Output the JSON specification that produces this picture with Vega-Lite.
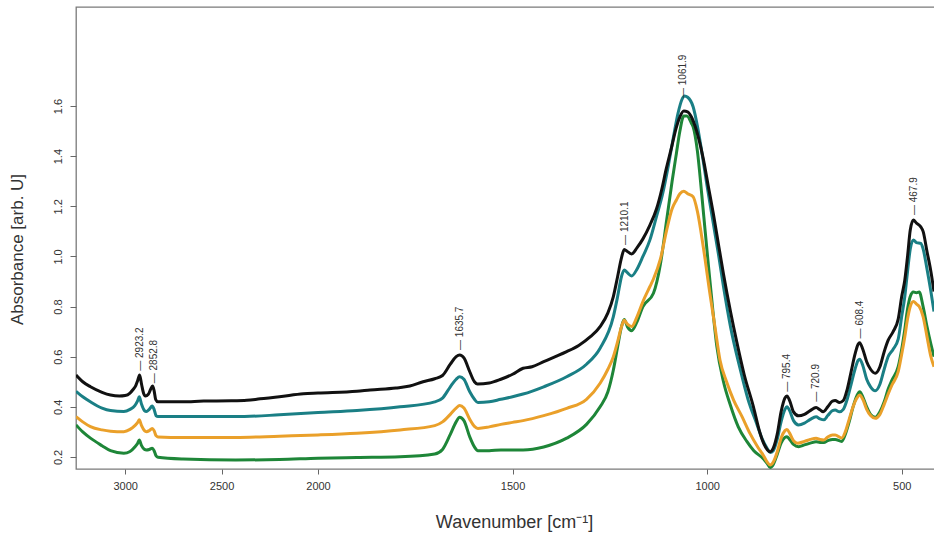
{
"$schema":"https://vega.github.io/schema/vega-lite/v6.json",
"width":862,"height":462,
"autosize":{"type":"none"},
"padding":{"left":76,"top":7,"right":0,"bottom":69},
"background":"white",
"config":{"view":{"stroke":"#7a7a7a","strokeWidth":1.3},"font":"Liberation Sans"},
"datasets":{
"spectra":[
{"s":"G","w":3255,"a":0.328},{"s":"G","w":3220,"a":0.30},{"s":"G","w":3180,"a":0.275},{"s":"G","w":3120,"a":0.245},{"s":"G","w":3076,"a":0.225},{"s":"G","w":3007,"a":0.215},{"s":"G","w":2975,"a":0.222},{"s":"G","w":2950,"a":0.24},{"s":"G","w":2935,"a":0.255},{"s":"G","w":2927,"a":0.268},{"s":"G","w":2915,"a":0.245},{"s":"G","w":2900,"a":0.23},{"s":"G","w":2890,"a":0.228},{"s":"G","w":2875,"a":0.23},{"s":"G","w":2860,"a":0.235},{"s":"G","w":2850,"a":0.225},{"s":"G","w":2840,"a":0.205},{"s":"G","w":2830,"a":0.199},{"s":"G","w":2700,"a":0.192},{"s":"G","w":2427,"a":0.188},{"s":"G","w":2200,"a":0.19},{"s":"G","w":2000,"a":0.195},{"s":"G","w":1900,"a":0.198},{"s":"G","w":1789,"a":0.201},{"s":"G","w":1700,"a":0.212},{"s":"G","w":1680,"a":0.23},{"s":"G","w":1660,"a":0.29},{"s":"G","w":1645,"a":0.34},{"s":"G","w":1636,"a":0.358},{"s":"G","w":1625,"a":0.345},{"s":"G","w":1610,"a":0.28},{"s":"G","w":1598,"a":0.24},{"s":"G","w":1589,"a":0.225},{"s":"G","w":1560,"a":0.225},{"s":"G","w":1530,"a":0.228},{"s":"G","w":1473,"a":0.228},{"s":"G","w":1420,"a":0.24},{"s":"G","w":1361,"a":0.275},{"s":"G","w":1310,"a":0.33},{"s":"G","w":1275,"a":0.40},{"s":"G","w":1255,"a":0.46},{"s":"G","w":1241,"a":0.547},{"s":"G","w":1230,"a":0.64},{"s":"G","w":1220,"a":0.72},{"s":"G","w":1213,"a":0.748},{"s":"G","w":1205,"a":0.72},{"s":"G","w":1194,"a":0.704},{"s":"G","w":1180,"a":0.74},{"s":"G","w":1165,"a":0.80},{"s":"G","w":1138,"a":0.853},{"s":"G","w":1120,"a":0.97},{"s":"G","w":1104,"a":1.145},{"s":"G","w":1090,"a":1.30},{"s":"G","w":1079,"a":1.411},{"s":"G","w":1070,"a":1.50},{"s":"G","w":1060,"a":1.56},{"s":"G","w":1052,"a":1.56},{"s":"G","w":1040,"a":1.53},{"s":"G","w":1036,"a":1.517},{"s":"G","w":1025,"a":1.42},{"s":"G","w":1014,"a":1.25},{"s":"G","w":1005,"a":1.10},{"s":"G","w":998,"a":0.985},{"s":"G","w":985,"a":0.78},{"s":"G","w":975,"a":0.64},{"s":"G","w":958,"a":0.50},{"s":"G","w":941,"a":0.41},{"s":"G","w":920,"a":0.32},{"s":"G","w":898,"a":0.262},{"s":"G","w":880,"a":0.225},{"s":"G","w":855,"a":0.192},{"s":"G","w":846,"a":0.175},{"s":"G","w":838,"a":0.158},{"s":"G","w":830,"a":0.17},{"s":"G","w":820,"a":0.21},{"s":"G","w":810,"a":0.255},{"s":"G","w":800,"a":0.278},{"s":"G","w":795,"a":0.281},{"s":"G","w":788,"a":0.27},{"s":"G","w":778,"a":0.25},{"s":"G","w":765,"a":0.241},{"s":"G","w":750,"a":0.248},{"s":"G","w":735,"a":0.255},{"s":"G","w":720,"a":0.261},{"s":"G","w":710,"a":0.258},{"s":"G","w":700,"a":0.258},{"s":"G","w":690,"a":0.265},{"s":"G","w":678,"a":0.27},{"s":"G","w":671,"a":0.27},{"s":"G","w":654,"a":0.262},{"s":"G","w":645,"a":0.29},{"s":"G","w":635,"a":0.34},{"s":"G","w":625,"a":0.40},{"s":"G","w":615,"a":0.445},{"s":"G","w":608,"a":0.46},{"s":"G","w":600,"a":0.44},{"s":"G","w":590,"a":0.40},{"s":"G","w":580,"a":0.37},{"s":"G","w":568,"a":0.358},{"s":"G","w":556,"a":0.38},{"s":"G","w":545,"a":0.42},{"s":"G","w":535,"a":0.47},{"s":"G","w":525,"a":0.507},{"s":"G","w":509,"a":0.56},{"s":"G","w":500,"a":0.63},{"s":"G","w":492,"a":0.71},{"s":"G","w":485,"a":0.79},{"s":"G","w":478,"a":0.84},{"s":"G","w":470,"a":0.858},{"s":"G","w":462,"a":0.855},{"s":"G","w":455,"a":0.858},{"s":"G","w":445,"a":0.80},{"s":"G","w":435,"a":0.72},{"s":"G","w":425,"a":0.65},{"s":"G","w":417,"a":0.60},
{"s":"O","w":3255,"a":0.361},{"s":"O","w":3220,"a":0.34},{"s":"O","w":3180,"a":0.321},{"s":"O","w":3120,"a":0.308},{"s":"O","w":3076,"a":0.303},{"s":"O","w":3007,"a":0.301},{"s":"O","w":2975,"a":0.31},{"s":"O","w":2950,"a":0.325},{"s":"O","w":2935,"a":0.338},{"s":"O","w":2927,"a":0.348},{"s":"O","w":2915,"a":0.325},{"s":"O","w":2900,"a":0.305},{"s":"O","w":2890,"a":0.301},{"s":"O","w":2875,"a":0.305},{"s":"O","w":2860,"a":0.314},{"s":"O","w":2850,"a":0.305},{"s":"O","w":2840,"a":0.285},{"s":"O","w":2830,"a":0.28},{"s":"O","w":2700,"a":0.278},{"s":"O","w":2427,"a":0.278},{"s":"O","w":2200,"a":0.283},{"s":"O","w":2000,"a":0.288},{"s":"O","w":1900,"a":0.295},{"s":"O","w":1789,"a":0.308},{"s":"O","w":1700,"a":0.325},{"s":"O","w":1680,"a":0.34},{"s":"O","w":1660,"a":0.37},{"s":"O","w":1645,"a":0.395},{"s":"O","w":1636,"a":0.405},{"s":"O","w":1625,"a":0.395},{"s":"O","w":1610,"a":0.35},{"s":"O","w":1598,"a":0.322},{"s":"O","w":1589,"a":0.314},{"s":"O","w":1560,"a":0.32},{"s":"O","w":1530,"a":0.33},{"s":"O","w":1500,"a":0.338},{"s":"O","w":1473,"a":0.345},{"s":"O","w":1420,"a":0.365},{"s":"O","w":1361,"a":0.394},{"s":"O","w":1310,"a":0.43},{"s":"O","w":1275,"a":0.494},{"s":"O","w":1255,"a":0.55},{"s":"O","w":1241,"a":0.60},{"s":"O","w":1230,"a":0.66},{"s":"O","w":1220,"a":0.72},{"s":"O","w":1213,"a":0.745},{"s":"O","w":1205,"a":0.73},{"s":"O","w":1194,"a":0.72},{"s":"O","w":1180,"a":0.76},{"s":"O","w":1165,"a":0.82},{"s":"O","w":1147,"a":0.88},{"s":"O","w":1138,"a":0.91},{"s":"O","w":1120,"a":0.99},{"s":"O","w":1104,"a":1.105},{"s":"O","w":1090,"a":1.19},{"s":"O","w":1079,"a":1.225},{"s":"O","w":1070,"a":1.25},{"s":"O","w":1060,"a":1.26},{"s":"O","w":1050,"a":1.25},{"s":"O","w":1036,"a":1.238},{"s":"O","w":1025,"a":1.18},{"s":"O","w":1010,"a":1.039},{"s":"O","w":993,"a":0.853},{"s":"O","w":980,"a":0.72},{"s":"O","w":967,"a":0.587},{"s":"O","w":950,"a":0.50},{"s":"O","w":932,"a":0.427},{"s":"O","w":910,"a":0.36},{"s":"O","w":890,"a":0.294},{"s":"O","w":870,"a":0.24},{"s":"O","w":855,"a":0.205},{"s":"O","w":846,"a":0.18},{"s":"O","w":838,"a":0.168},{"s":"O","w":830,"a":0.18},{"s":"O","w":820,"a":0.22},{"s":"O","w":810,"a":0.275},{"s":"O","w":800,"a":0.305},{"s":"O","w":795,"a":0.31},{"s":"O","w":788,"a":0.295},{"s":"O","w":778,"a":0.265},{"s":"O","w":767,"a":0.255},{"s":"O","w":750,"a":0.262},{"s":"O","w":735,"a":0.27},{"s":"O","w":720,"a":0.275},{"s":"O","w":710,"a":0.27},{"s":"O","w":700,"a":0.268},{"s":"O","w":690,"a":0.28},{"s":"O","w":678,"a":0.288},{"s":"O","w":671,"a":0.288},{"s":"O","w":654,"a":0.276},{"s":"O","w":645,"a":0.30},{"s":"O","w":635,"a":0.35},{"s":"O","w":625,"a":0.40},{"s":"O","w":615,"a":0.435},{"s":"O","w":608,"a":0.447},{"s":"O","w":600,"a":0.43},{"s":"O","w":590,"a":0.39},{"s":"O","w":580,"a":0.365},{"s":"O","w":568,"a":0.354},{"s":"O","w":556,"a":0.37},{"s":"O","w":545,"a":0.41},{"s":"O","w":535,"a":0.45},{"s":"O","w":525,"a":0.487},{"s":"O","w":509,"a":0.54},{"s":"O","w":500,"a":0.61},{"s":"O","w":492,"a":0.68},{"s":"O","w":485,"a":0.75},{"s":"O","w":478,"a":0.80},{"s":"O","w":470,"a":0.82},{"s":"O","w":462,"a":0.81},{"s":"O","w":455,"a":0.80},{"s":"O","w":445,"a":0.76},{"s":"O","w":435,"a":0.68},{"s":"O","w":425,"a":0.60},{"s":"O","w":417,"a":0.56},
{"s":"T","w":3255,"a":0.462},{"s":"T","w":3220,"a":0.44},{"s":"T","w":3180,"a":0.42},{"s":"T","w":3120,"a":0.395},{"s":"T","w":3076,"a":0.385},{"s":"T","w":3007,"a":0.381},{"s":"T","w":2975,"a":0.39},{"s":"T","w":2950,"a":0.405},{"s":"T","w":2935,"a":0.425},{"s":"T","w":2927,"a":0.44},{"s":"T","w":2915,"a":0.41},{"s":"T","w":2900,"a":0.385},{"s":"T","w":2890,"a":0.381},{"s":"T","w":2875,"a":0.39},{"s":"T","w":2860,"a":0.403},{"s":"T","w":2850,"a":0.39},{"s":"T","w":2840,"a":0.365},{"s":"T","w":2830,"a":0.361},{"s":"T","w":2700,"a":0.361},{"s":"T","w":2427,"a":0.361},{"s":"T","w":2200,"a":0.368},{"s":"T","w":2000,"a":0.377},{"s":"T","w":1900,"a":0.385},{"s":"T","w":1789,"a":0.40},{"s":"T","w":1700,"a":0.42},{"s":"T","w":1680,"a":0.435},{"s":"T","w":1660,"a":0.48},{"s":"T","w":1645,"a":0.51},{"s":"T","w":1636,"a":0.52},{"s":"T","w":1625,"a":0.51},{"s":"T","w":1610,"a":0.46},{"s":"T","w":1598,"a":0.43},{"s":"T","w":1589,"a":0.417},{"s":"T","w":1560,"a":0.42},{"s":"T","w":1530,"a":0.43},{"s":"T","w":1500,"a":0.44},{"s":"T","w":1473,"a":0.451},{"s":"T","w":1420,"a":0.48},{"s":"T","w":1361,"a":0.52},{"s":"T","w":1310,"a":0.57},{"s":"T","w":1275,"a":0.634},{"s":"T","w":1241,"a":0.76},{"s":"T","w":1230,"a":0.84},{"s":"T","w":1220,"a":0.92},{"s":"T","w":1213,"a":0.946},{"s":"T","w":1205,"a":0.935},{"s":"T","w":1194,"a":0.922},{"s":"T","w":1180,"a":0.95},{"s":"T","w":1165,"a":1.0},{"s":"T","w":1147,"a":1.066},{"s":"T","w":1130,"a":1.16},{"s":"T","w":1114,"a":1.252},{"s":"T","w":1100,"a":1.36},{"s":"T","w":1088,"a":1.464},{"s":"T","w":1075,"a":1.57},{"s":"T","w":1065,"a":1.625},{"s":"T","w":1058,"a":1.64},{"s":"T","w":1050,"a":1.635},{"s":"T","w":1036,"a":1.597},{"s":"T","w":1025,"a":1.52},{"s":"T","w":1014,"a":1.42},{"s":"T","w":1000,"a":1.28},{"s":"T","w":984,"a":1.13},{"s":"T","w":970,"a":1.0},{"s":"T","w":958,"a":0.88},{"s":"T","w":940,"a":0.72},{"s":"T","w":915,"a":0.55},{"s":"T","w":895,"a":0.43},{"s":"T","w":872,"a":0.33},{"s":"T","w":858,"a":0.27},{"s":"T","w":846,"a":0.235},{"s":"T","w":838,"a":0.218},{"s":"T","w":830,"a":0.225},{"s":"T","w":820,"a":0.27},{"s":"T","w":810,"a":0.34},{"s":"T","w":800,"a":0.39},{"s":"T","w":795,"a":0.40},{"s":"T","w":788,"a":0.385},{"s":"T","w":778,"a":0.345},{"s":"T","w":765,"a":0.328},{"s":"T","w":750,"a":0.335},{"s":"T","w":735,"a":0.35},{"s":"T","w":720,"a":0.36},{"s":"T","w":710,"a":0.352},{"s":"T","w":700,"a":0.348},{"s":"T","w":690,"a":0.365},{"s":"T","w":678,"a":0.385},{"s":"T","w":671,"a":0.387},{"s":"T","w":660,"a":0.38},{"s":"T","w":650,"a":0.39},{"s":"T","w":640,"a":0.43},{"s":"T","w":630,"a":0.49},{"s":"T","w":620,"a":0.55},{"s":"T","w":612,"a":0.585},{"s":"T","w":608,"a":0.59},{"s":"T","w":600,"a":0.565},{"s":"T","w":590,"a":0.51},{"s":"T","w":580,"a":0.48},{"s":"T","w":568,"a":0.464},{"s":"T","w":556,"a":0.49},{"s":"T","w":545,"a":0.55},{"s":"T","w":535,"a":0.60},{"s":"T","w":522,"a":0.63},{"s":"T","w":509,"a":0.67},{"s":"T","w":500,"a":0.76},{"s":"T","w":492,"a":0.84},{"s":"T","w":485,"a":0.94},{"s":"T","w":478,"a":1.03},{"s":"T","w":470,"a":1.066},{"s":"T","w":462,"a":1.055},{"s":"T","w":451,"a":1.052},{"s":"T","w":445,"a":1.03},{"s":"T","w":435,"a":0.95},{"s":"T","w":425,"a":0.86},{"s":"T","w":417,"a":0.78},
{"s":"K","w":3255,"a":0.527},{"s":"K","w":3220,"a":0.50},{"s":"K","w":3180,"a":0.48},{"s":"K","w":3120,"a":0.458},{"s":"K","w":3076,"a":0.447},{"s":"K","w":3030,"a":0.443},{"s":"K","w":3000,"a":0.445},{"s":"K","w":2975,"a":0.455},{"s":"K","w":2960,"a":0.468},{"s":"K","w":2945,"a":0.485},{"s":"K","w":2935,"a":0.505},{"s":"K","w":2925,"a":0.527},{"s":"K","w":2915,"a":0.49},{"s":"K","w":2905,"a":0.455},{"s":"K","w":2895,"a":0.443},{"s":"K","w":2880,"a":0.45},{"s":"K","w":2868,"a":0.47},{"s":"K","w":2858,"a":0.483},{"s":"K","w":2850,"a":0.465},{"s":"K","w":2842,"a":0.43},{"s":"K","w":2830,"a":0.42},{"s":"K","w":2700,"a":0.42},{"s":"K","w":2593,"a":0.423},{"s":"K","w":2450,"a":0.424},{"s":"K","w":2369,"a":0.426},{"s":"K","w":2300,"a":0.432},{"s":"K","w":2200,"a":0.44},{"s":"K","w":2076,"a":0.452},{"s":"K","w":2000,"a":0.455},{"s":"K","w":1900,"a":0.462},{"s":"K","w":1866,"a":0.467},{"s":"K","w":1800,"a":0.475},{"s":"K","w":1764,"a":0.483},{"s":"K","w":1730,"a":0.50},{"s":"K","w":1700,"a":0.512},{"s":"K","w":1680,"a":0.525},{"s":"K","w":1660,"a":0.57},{"s":"K","w":1645,"a":0.60},{"s":"K","w":1636,"a":0.607},{"s":"K","w":1625,"a":0.595},{"s":"K","w":1610,"a":0.54},{"s":"K","w":1598,"a":0.50},{"s":"K","w":1590,"a":0.491},{"s":"K","w":1560,"a":0.495},{"s":"K","w":1530,"a":0.51},{"s":"K","w":1500,"a":0.53},{"s":"K","w":1473,"a":0.554},{"s":"K","w":1450,"a":0.56},{"s":"K","w":1420,"a":0.58},{"s":"K","w":1390,"a":0.60},{"s":"K","w":1361,"a":0.62},{"s":"K","w":1330,"a":0.645},{"s":"K","w":1300,"a":0.68},{"s":"K","w":1275,"a":0.72},{"s":"K","w":1255,"a":0.775},{"s":"K","w":1241,"a":0.84},{"s":"K","w":1230,"a":0.92},{"s":"K","w":1220,"a":0.995},{"s":"K","w":1213,"a":1.028},{"s":"K","w":1205,"a":1.02},{"s":"K","w":1194,"a":1.01},{"s":"K","w":1180,"a":1.035},{"s":"K","w":1165,"a":1.07},{"s":"K","w":1147,"a":1.125},{"s":"K","w":1130,"a":1.19},{"s":"K","w":1117,"a":1.265},{"s":"K","w":1105,"a":1.35},{"s":"K","w":1091,"a":1.438},{"s":"K","w":1080,"a":1.51},{"s":"K","w":1070,"a":1.557},{"s":"K","w":1060,"a":1.58},{"s":"K","w":1050,"a":1.577},{"s":"K","w":1040,"a":1.555},{"s":"K","w":1031,"a":1.52},{"s":"K","w":1020,"a":1.46},{"s":"K","w":1010,"a":1.39},{"s":"K","w":997,"a":1.28},{"s":"K","w":984,"a":1.17},{"s":"K","w":970,"a":1.04},{"s":"K","w":958,"a":0.93},{"s":"K","w":940,"a":0.78},{"s":"K","w":924,"a":0.66},{"s":"K","w":905,"a":0.53},{"s":"K","w":881,"a":0.40},{"s":"K","w":865,"a":0.30},{"s":"K","w":855,"a":0.255},{"s":"K","w":845,"a":0.228},{"s":"K","w":838,"a":0.221},{"s":"K","w":830,"a":0.235},{"s":"K","w":820,"a":0.29},{"s":"K","w":810,"a":0.38},{"s":"K","w":800,"a":0.435},{"s":"K","w":795,"a":0.443},{"s":"K","w":788,"a":0.425},{"s":"K","w":778,"a":0.38},{"s":"K","w":765,"a":0.364},{"s":"K","w":750,"a":0.37},{"s":"K","w":735,"a":0.385},{"s":"K","w":720,"a":0.397},{"s":"K","w":710,"a":0.388},{"s":"K","w":702,"a":0.38},{"s":"K","w":690,"a":0.40},{"s":"K","w":678,"a":0.423},{"s":"K","w":671,"a":0.425},{"s":"K","w":660,"a":0.417},{"s":"K","w":650,"a":0.425},{"s":"K","w":640,"a":0.47},{"s":"K","w":630,"a":0.54},{"s":"K","w":620,"a":0.61},{"s":"K","w":612,"a":0.65},{"s":"K","w":608,"a":0.656},{"s":"K","w":600,"a":0.63},{"s":"K","w":590,"a":0.58},{"s":"K","w":580,"a":0.55},{"s":"K","w":568,"a":0.534},{"s":"K","w":556,"a":0.56},{"s":"K","w":545,"a":0.62},{"s":"K","w":535,"a":0.665},{"s":"K","w":522,"a":0.70},{"s":"K","w":509,"a":0.75},{"s":"K","w":500,"a":0.84},{"s":"K","w":492,"a":0.906},{"s":"K","w":485,"a":1.00},{"s":"K","w":478,"a":1.105},{"s":"K","w":470,"a":1.145},{"s":"K","w":462,"a":1.133},{"s":"K","w":451,"a":1.118},{"s":"K","w":445,"a":1.10},{"s":"K","w":435,"a":1.02},{"s":"K","w":425,"a":0.94},{"s":"K","w":417,"a":0.86}
],
"peaks":[
{"w":2923.2,"y":0.544,"label":"— 2923.2"},
{"w":2852.8,"y":0.494,"label":"— 2852.8"},
{"w":1635.7,"y":0.627,"label":"— 1635.7"},
{"w":1210.1,"y":1.046,"label":"— 1210.1"},
{"w":1061.9,"y":1.632,"label":"— 1061.9"},
{"w":795.4,"y":0.46,"label":"— 795.4"},
{"w":720.9,"y":0.42,"label":"— 720.9"},
{"w":608.4,"y":0.673,"label":"— 608.4"},
{"w":467.9,"y":1.165,"label":"— 467.9"}
]
},
"layer":[
{"data":{"name":"spectra"},
 "mark":{"type":"line","strokeWidth":3,"interpolate":"monotone","clip":true},
 "encoding":{
  "x":{"field":"w","type":"quantitative",
   "scale":{"domain":[3255,2000,417],"range":[0,242,858],"nice":false,"zero":false},
   "axis":{"values":[3000,2500,2000,1500,1000,500],"format":"d","title":"Wavenumber [cm⁻¹]","grid":false,"domain":false,
    "tickSize":5,"tickColor":"#666","tickWidth":1,"labelFontSize":11,"labelColor":"#333","labelPadding":6,
    "titleFontSize":18,"titleFontWeight":"normal","titleColor":"#333","titlePadding":22,"titleX":438}},
  "y":{"field":"a","type":"quantitative",
   "scale":{"domain":[0.152,1.995],"nice":false,"zero":false},
   "axis":{"values":[0.2,0.4,0.6,0.8,1.0,1.2,1.4,1.6],"format":".1f","title":"Absorbance [arb. U]","grid":false,"domain":false,
    "tickSize":6,"tickColor":"#666","tickWidth":1,"labelFontSize":11,"labelColor":"#333","labelAngle":270,"labelAlign":"center","labelBaseline":"alphabetic","labelPadding":9,
    "titleFontSize":17,"titleFontWeight":"normal","titleColor":"#333","titleAngle":270,"titleBaseline":"middle","titleAlign":"center","titleX":-59,"titleY":242}},
  "color":{"field":"s","type":"nominal","sort":null,
   "scale":{"domain":["G","O","T","K"],"range":["#1e8638","#eaa02a","#1a7f85","#111111"]},"legend":null}
 }},
{"data":{"name":"peaks"},
 "mark":{"type":"text","angle":270,"align":"left","baseline":"middle","fontSize":10,"font":"Liberation Sans","color":"#333"},
 "encoding":{
  "x":{"field":"w","type":"quantitative"},
  "y":{"field":"y","type":"quantitative"},
  "text":{"field":"label"}
 }}
]
}
